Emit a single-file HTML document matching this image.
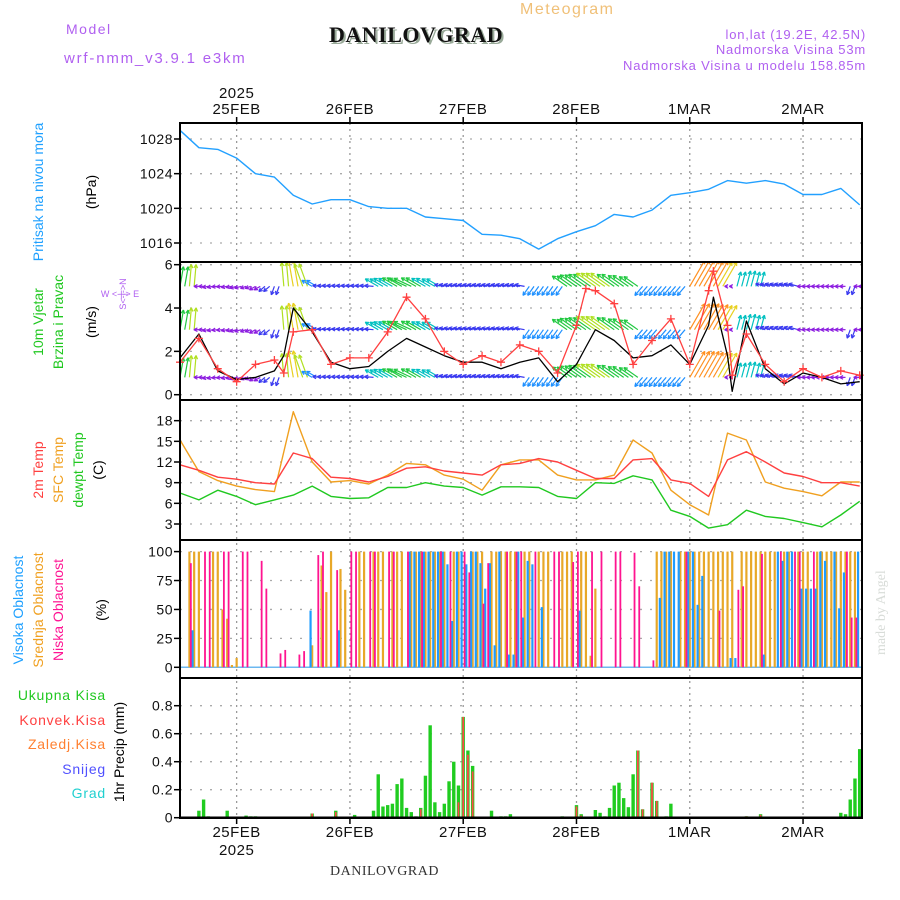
<!DOCTYPE html>
<html><head><meta charset="utf-8"><title>Meteogram DANILOVGRAD</title>
<style>
html,body{margin:0;padding:0;background:#fff;}
svg{display:block;font-family:"Liberation Sans",sans-serif;}
</style></head>
<body>
<svg id="chart" width="900" height="900" viewBox="0 0 900 900" xmlns="http://www.w3.org/2000/svg">
<rect width="900" height="900" fill="#fff"/>
<text x="520" y="14" font-size="16" fill="#f0c078" letter-spacing="1.5">Meteogram</text>
<text x="66" y="34" font-size="14" fill="#b060f0" letter-spacing="1.5">Model</text>
<text x="64" y="63" font-size="15" fill="#b060f0" letter-spacing="1.8">wrf-nmm_v3.9.1 e3km</text>
<text x="331" y="44" font-family="Liberation Serif" font-weight="bold" font-size="22" fill="#9a9" letter-spacing="0.5">DANILOVGRAD</text>
<text x="329" y="42" font-family="Liberation Serif" font-weight="bold" font-size="22" fill="#111" letter-spacing="0.5">DANILOVGRAD</text>
<text x="866" y="39" font-size="13" fill="#b060f0" text-anchor="end" letter-spacing="0.8">lon,lat (19.2E, 42.5N)</text>
<text x="866" y="54" font-size="13" fill="#b060f0" text-anchor="end" letter-spacing="0.8">Nadmorska Visina 53m</text>
<text x="866" y="70" font-size="13" fill="#b060f0" text-anchor="end" letter-spacing="0.8">Nadmorska Visina u modelu 158.85m</text>
<text transform="translate(885,655) rotate(-90)" font-family="Liberation Serif" font-size="14" fill="#d8dcd8">made by Angel</text>
<text x="330" y="875" font-family="Liberation Serif" font-size="14" fill="#333" letter-spacing="0.5">DANILOVGRAD</text>

<!-- left axis titles -->
<text transform="translate(43,192) rotate(-90)" font-size="14" fill="#1ea0ff" text-anchor="middle">Pritisak na nivou mora</text>
<text transform="translate(96,192) rotate(-90)" font-size="14" fill="#000" text-anchor="middle">(hPa)</text>
<text transform="translate(43,322) rotate(-90)" font-size="14" fill="#20c820" text-anchor="middle">10m Vjetar</text>
<text transform="translate(63,322) rotate(-90)" font-size="14" fill="#20c820" text-anchor="middle">Brzina i Pravac</text>
<text transform="translate(96,322) rotate(-90)" font-size="14" fill="#000" text-anchor="middle">(m/s)</text>
<text transform="translate(126,294) rotate(-90)" font-size="9" fill="#b060f0" text-anchor="middle">S&lt;-|-&gt;N</text>
<text x="120" y="297" font-size="9" fill="#b060f0" text-anchor="middle">W &lt;-|-&gt; E</text>
<text transform="translate(43,470) rotate(-90)" font-size="14" fill="#ff4040" text-anchor="middle">2m Temp</text>
<text transform="translate(63,470) rotate(-90)" font-size="14" fill="#f0a020" text-anchor="middle">SFC Temp</text>
<text transform="translate(83,470) rotate(-90)" font-size="14" fill="#20c820" text-anchor="middle">dewpt Temp</text>
<text transform="translate(103,470) rotate(-90)" font-size="14" fill="#000" text-anchor="middle">(C)</text>
<text transform="translate(23,610) rotate(-90)" font-size="14" fill="#1ea0ff" text-anchor="middle">Visoka Oblacnost</text>
<text transform="translate(43,610) rotate(-90)" font-size="14" fill="#f0a020" text-anchor="middle">Srednja Oblacnost</text>
<text transform="translate(63,610) rotate(-90)" font-size="14" fill="#ff1493" text-anchor="middle">Niska Oblacnost</text>
<text transform="translate(106,610) rotate(-90)" font-size="14" fill="#000" text-anchor="middle">(%)</text>
<text x="106" y="700" font-size="14" fill="#20c820" text-anchor="end" letter-spacing="0.8">Ukupna  Kisa</text>
<text x="106" y="725" font-size="14" fill="#ff4040" text-anchor="end" letter-spacing="0.8">Konvek.Kisa</text>
<text x="106" y="749" font-size="14" fill="#ff8030" text-anchor="end" letter-spacing="0.8">Zaledj.Kisa</text>
<text x="106" y="774" font-size="14" fill="#5050ff" text-anchor="end" letter-spacing="0.8">Snijeg</text>
<text x="106" y="798" font-size="14" fill="#20d0d0" text-anchor="end" letter-spacing="0.8">Grad</text>
<text transform="translate(124,752) rotate(-90)" font-size="14" fill="#000" text-anchor="middle">1hr Precip (mm)</text>

<g id="grid"></g>
<g id="marks"></g>
<g id="frame"></g>
</svg>
<script>
const NS='http://www.w3.org/2000/svg';
// ---------- data ----------
const dayLabels=['25FEB','26FEB','27FEB','28FEB','1MAR','2MAR'];
const dayHours=[12,36,60,84,108,132];
const yearLabel='2025';
const pressTicks=[1016,1020,1024,1028];
const windTicks=[0,2,4,6];
const tempTicks=[3,6,9,12,15,18];
const cloudTicks=[0,25,50,75,100];
const precipTicks=[0,0.2,0.4,0.6,0.8];
const precipTickLabels=['0','0.2','0.4','0.6','0.8'];

const hours4=[0,4,8,12,16,20,24,28,32,36,40,44,48,52,56,60,64,68,72,76,80,84,88,92,96,100,104,108,112,116,120,124,128,132,136,140,144];
const pressure=[1029.0,1027.0,1026.8,1025.8,1024.0,1023.6,1021.5,1020.5,1021.0,1021.0,1020.2,1020.0,1020.0,1019.0,1018.8,1018.6,1017.0,1016.9,1016.5,1015.3,1016.5,1017.3,1018.0,1019.3,1019.0,1019.8,1021.5,1021.8,1022.2,1023.2,1022.9,1023.2,1022.8,1021.6,1021.6,1022.3,1020.4];
const temp2m=[11.6,10.8,9.8,9.5,9.0,8.8,13.3,12.5,9.8,9.6,9.1,9.9,11.1,11.3,10.7,10.4,10.1,11.6,11.8,12.5,12.0,10.8,9.6,9.6,12.3,12.5,9.4,8.9,7.0,12.3,13.5,12.0,10.4,9.9,9.0,9.0,8.5];
const tempSfc=[15.2,10.6,9.3,8.5,8.0,7.7,19.3,12.0,9.1,9.3,8.8,10.1,11.8,11.6,10.1,9.5,7.9,11.6,12.3,12.3,10.1,9.4,9.4,10.1,15.2,13.3,7.9,5.8,4.3,16.2,15.2,9.1,8.2,7.7,7.1,9.1,9.1];
const tempDew=[7.5,6.5,7.9,7.0,5.8,6.5,7.2,8.5,7.0,6.7,6.8,8.3,8.3,9.0,8.5,8.3,7.2,8.4,8.4,8.3,7.0,6.7,9.0,8.9,10.0,9.4,5.0,4.1,2.4,2.9,5.0,4.1,3.8,3.2,2.6,4.3,6.3];

const windHours=[0,4,8,12,16,20,22,24,28,32,36,40,44,48,52,56,60,64,68,72,76,80,84,86,88,92,96,100,104,108,112,113,116,117,120,124,128,132,136,140,144];
const windSpeed=[1.7,2.8,1.1,0.7,0.8,1.1,1.8,4.0,2.9,1.5,1.2,1.3,2.0,2.6,2.2,1.8,1.5,1.5,1.2,1.5,1.7,0.6,1.4,2.2,3.0,2.5,1.7,1.8,2.3,1.4,3.2,4.5,1.8,0.15,3.4,1.2,0.5,1.0,0.8,0.5,0.6];
const windGust=[1.5,2.6,1.2,0.6,1.4,1.6,1.0,2.9,3.0,1.4,1.7,1.7,2.9,4.5,3.5,2.0,1.4,1.8,1.5,2.3,2.0,1.0,3.2,4.9,4.8,4.2,1.4,2.5,3.5,1.4,4.8,5.7,3.2,0.9,2.8,1.4,0.6,1.2,0.8,1.1,0.9];

// wind arrows every 2 h: direction (deg, 0=east,90=north) and length
const arrowDir=[80,85,180,190,185,190,195,200,210,220,250,95,100,110,150,175,175,175,175,175,175,150,150,150,155,150,150,150,170,170,170,170,170,170,170,170,170,235,235,235,235,145,145,145,145,145,145,145,145,230,230,230,230,230,60,60,60,60,180,75,75,75,165,165,165,165,180,180,180,180,180,250,180];
const arrowLen=[20,22,5,6,6,6,7,6,7,8,9,24,27,24,12,9,9,9,9,9,9,15,16,17,19,17,16,15,10,10,10,10,10,10,10,10,10,11,11,11,11,18,20,21,23,23,21,19,17,12,12,12,12,12,30,30,29,28,3,15,16,15,10,10,10,10,6,6,6,6,6,9,6];
const arrowRows=[5,3,0.8];

const cloudHigh=[0,0,0,32,0,0,0,0,0,0, 0,0,0,0,0,0,0,0,0,0, 0,0,0,0,0,0,0,0,49,0, 0,0,0,0,32,0,0,0,0,0, 0,0,0,0,0,0,0,0,0,100, 100,100,100,100,100,100,100,89,40,100, 100,89,100,100,90,68,90,19,100,0, 11,11,100,43,92,89,0,52,0,0, 0,0,0,0,0,49,0,0,0,0, 0,0,0,0,0,0,0,0,0,0, 0,0,60,100,100,100,100,0,100,100, 54,79,0,0,0,0,0,8,8,0, 0,0,0,0,11,0,0,100,92,100, 100,0,68,68,68,68,100,92,0,100, 51,82,0,0,100];
const cloudMid=[0,0,100,100,100,0,0,100,100,50, 42,2,8,0,0,0,0,0,0,0, 0,0,0,0,0,0,0,0,19,0, 88,65,100,0,85,67,0,0,100,100, 0,100,100,100,0,100,100,100,0,100, 100,100,100,100,100,100,100,0,100,100, 0,0,100,100,100,0,100,100,100,100, 100,100,0,100,100,0,100,100,100,0, 0,100,100,100,0,100,100,10,68,0, 0,0,0,0,0,0,0,0,0,0, 0,100,100,100,100,0,100,100,100,100, 100,100,100,100,100,100,100,100,0,100, 100,100,100,100,100,100,100,0,100,100, 0,100,100,100,0,100,100,100,100,100, 100,100,100,100,0];
const cloudLow=[0,0,90,0,0,100,100,0,0,100, 100,0,0,100,100,0,0,92,68,0, 0,12,15,0,0,11,14,0,0,97, 100,0,0,84,0,0,100,100,0,0, 100,100,0,0,100,100,0,0,100,0, 0,100,0,0,0,100,0,100,0,0, 100,82,0,0,55,90,0,0,0,100, 0,100,100,0,0,100,0,0,0,100, 100,0,0,91,100,0,0,100,0,100, 0,0,100,100,0,0,99,70,0,0, 6,0,0,0,0,0,0,100,0,0, 0,0,0,0,49,0,0,0,67,70, 0,0,0,98,0,0,0,100,0,0, 100,100,0,0,100,0,0,0,0,0, 0,100,43,43,0];

const precipTotal=[0,0,0,0,0.05,0.13,0.01,0,0,0, 0.05,0,0,0,0.015,0.01,0.01,0,0,0, 0,0,0,0,0,0,0,0,0.03,0, 0,0,0,0.05,0,0,0,0.02,0,0, 0.005,0.05,0.31,0.08,0.09,0.1,0.24,0.28,0.07,0.04, 0.01,0.07,0.3,0.66,0.11,0.04,0.1,0.26,0.4,0.23, 0.72,0.48,0.37,0,0,0,0.05,0,0.01,0.01, 0.025,0,0,0,0,0,0,0,0,0, 0,0.01,0,0,0.09,0.025,0,0,0.055,0.035, 0.01,0.07,0.23,0.25,0.14,0.075,0.31,0.48,0.06,0, 0.25,0.12,0,0.01,0.1,0,0,0,0,0, 0,0,0,0,0,0,0,0,0,0, 0.01,0,0,0.025,0,0,0,0,0,0, 0,0,0,0,0,0,0,0,0,0, 0.035,0.025,0.13,0.28,0.49];
const precipConv=[0,0,0,0,0,0,0,0,0,0, 0,0,0,0,0,0,0,0,0,0, 0,0,0,0,0,0,0,0,0.03,0, 0,0,0,0.04,0,0,0,0,0,0, 0,0,0,0,0,0,0,0,0,0, 0,0.06,0,0,0,0,0,0,0,0.11, 0.72,0.45,0.33,0,0,0,0,0,0,0, 0,0,0,0,0,0,0,0,0,0, 0,0,0,0,0.08,0.015,0,0,0,0, 0,0,0,0,0,0,0.01,0.48,0.06,0, 0.25,0.12,0,0,0,0,0,0,0,0, 0,0,0,0,0,0,0,0,0,0, 0.01,0,0,0.02,0,0,0,0,0,0, 0,0,0,0,0,0,0,0,0,0, 0,0,0,0,0];

// ---------- scales ----------
const L=180,R=862;
const X=t=>L+4.72*t;
const yP=v=>243-(v-1016)*8.667;
const yW=v=>394.7-v*21.67;
const yT=v=>524-(v-3)*6.889;
const yC=v=>667.3-v*1.157;
const yR=v=>817.7-v*140;
const panels=[[123,262],[262,400],[400,540],[540,678],[678,818]];

const grid=document.getElementById('grid');
const marks=document.getElementById('marks');
const frame=document.getElementById('frame');
function el(tag,attrs,parent){const e=document.createElementNS(NS,tag);for(const k in attrs)e.setAttribute(k,attrs[k]);parent.appendChild(e);return e;}

// vertical day gridlines
dayHours.forEach((h,i)=>{
  const x=X(h);
  const g=el('line',{x1:x,x2:x,y1:123,y2:818,stroke:'#999','stroke-width':1.3,'stroke-dasharray':'2,4'},grid);
  
  
  const tt=el('text',{x:x,y:114,'font-size':15,'text-anchor':'middle',fill:'#111','letter-spacing':'0.5'},frame);
  tt.textContent=dayLabels[i];
  
  
  const tb=el('text',{x:x,y:837,'font-size':15,'text-anchor':'middle',fill:'#111','letter-spacing':'0.5'},frame);
  tb.textContent=dayLabels[i];
  
  
});
[[98],[855]].forEach(([y],i)=>{
  const t=el('text',{x:X(dayHours[0]),y:y,'font-size':15,'text-anchor':'middle',fill:'#111','letter-spacing':'0.5'},frame);
  t.textContent=yearLabel;
  
  
});

function yAxis(ticks,labels,scale,name){
  ticks.forEach((v,i)=>{
    const y=scale(v);
    const g=el('line',{x1:L,x2:R,y1:y,y2:y,stroke:'#aaa','stroke-width':1.3,'stroke-dasharray':'2,8'},grid);
    
    
    el('line',{x1:L-6,x2:L,y1:y,y2:y,stroke:'#000','stroke-width':1.5},frame);
    const t=el('text',{x:L-7,y:y+5,'font-size':14,'text-anchor':'end',fill:'#111','letter-spacing':'0.5'},frame);
    t.textContent=labels?labels[i]:String(v);
    
    
  });
}
yAxis(pressTicks,null,yP,'pressure');
yAxis(windTicks,null,yW,'wind');
yAxis(tempTicks,null,yT,'temp');
yAxis(cloudTicks,null,yC,'cloud');
yAxis(precipTicks,precipTickLabels,yR,'precip');

function line(xs,ys,color,name,w){
  const d=xs.map((x,i)=>(i?'L':'M')+x.toFixed(1)+','+ys[i].toFixed(1)).join('');
  const p=el('path',{d:d,fill:'none',stroke:color,'stroke-width':w||1.4,'stroke-linejoin':'round'},marks);
  
  
  return p;
}
// pressure
line(hours4.map(X),pressure.map(yP),'#22a0ff','pressure-line');

// wind arrows
const clipW=el('clipPath',{id:'clipw'},marks);
el('rect',{x:L,y:262,width:R-L,height:138},clipW);
const gW=el('g',{'clip-path':'url(#clipw)'},marks);


function arrowColor(l){return l<=7?'#8c1ce0':l<=10?'#3a3af0':l<=12?'#1e90ff':l<=16?'#00c0c0':l<=21?'#20c840':l<=25?'#b0e020':l<=28?'#e8d020':'#ff9020';}
arrowRows.forEach(rv=>{
  arrowDir.forEach((dd,k)=>{
    for(let s=0;s<2;s++){
      const x0=X(k*2+s*1.0), y0=yW(rv);
      const a=dd*Math.PI/180, l=arrowLen[k];
      const x1=x0+l*Math.cos(a), y1=y0-l*Math.sin(a);
      const c=arrowColor(l);
      const ln=el('line',{x1:x0,y1:y0,x2:x1,y2:y1,stroke:c,'stroke-width':1.2},gW);
      
      
      [2.6,-2.6].forEach(o=>{
        const b=a+Math.PI+o*0.18;
        el('line',{x1:x1,y1:y1,x2:x1+4*Math.cos(b),y2:y1-4*Math.sin(b),stroke:c,'stroke-width':1.2},gW);
      });
    }
  });
});
// wind speed & gusts
line(windHours.map(X),windSpeed.map(yW),'#000','wind-speed-line',1.3);
line(windHours.map(X),windGust.map(yW),'#ff4040','wind-gust-line',1.3);
windHours.forEach((h,i)=>{
  const x=X(h),y=yW(windGust[i]);
  const p=el('path',{d:`M${x-4},${y}H${x+4}M${x},${y-4}V${y+4}`,stroke:'#ff4040','stroke-width':1.3},marks);
  
  
});

// temperatures
line(hours4.map(X),tempSfc.map(yT),'#f0a020','sfc-temp-line');
line(hours4.map(X),temp2m.map(yT),'#ff4040','temp-2m-line');
line(hours4.map(X),tempDew.map(yT),'#20c820','dewpoint-line');

// cloud bars
el('line',{x1:L,x2:R,y1:yC(0),y2:yC(0),stroke:'#6cb8f0','stroke-width':1.5},marks);
function bars(vals,scale,off,w,color,name){
  vals.forEach((v,i)=>{
    if(!v)return;
    const y=scale(v),y0=scale(0);
    const r=el('rect',{x:X(i)+off-w/2,y:y,width:w,height:y0-y,fill:color},marks);
    
    
  });
}
bars(cloudMid,yC,0,2.2,'#e8a828','cloud-mid-bar');
bars(cloudHigh,yC,-1.6,2.2,'#1e9cff','cloud-high-bar');
bars(cloudLow,yC,1.4,1.8,'#ff1490','cloud-low-bar');

// precipitation
bars(precipTotal,yR,0,3.4,'#20cc20','precip-total-bar');
bars(precipConv,yR,0,1.7,'#ff4848','precip-conv-bar');
el('line',{x1:L,x2:R,y1:yR(0),y2:yR(0),stroke:'#000','stroke-width':2.5},marks);

// frame
panels.forEach(([a,b])=>{
  const r=el('rect',{x:L,y:a,width:R-L,height:b-a,fill:'none',stroke:'#000','stroke-width':2},frame);
  
  
});
dayHours.forEach(h=>{
  el('line',{x1:X(h),x2:X(h),y1:117,y2:123,stroke:'#000','stroke-width':1.5},frame);
  el('line',{x1:X(h),x2:X(h),y1:818,y2:824,stroke:'#000','stroke-width':1.5},frame);
});
</script>
</body></html>
